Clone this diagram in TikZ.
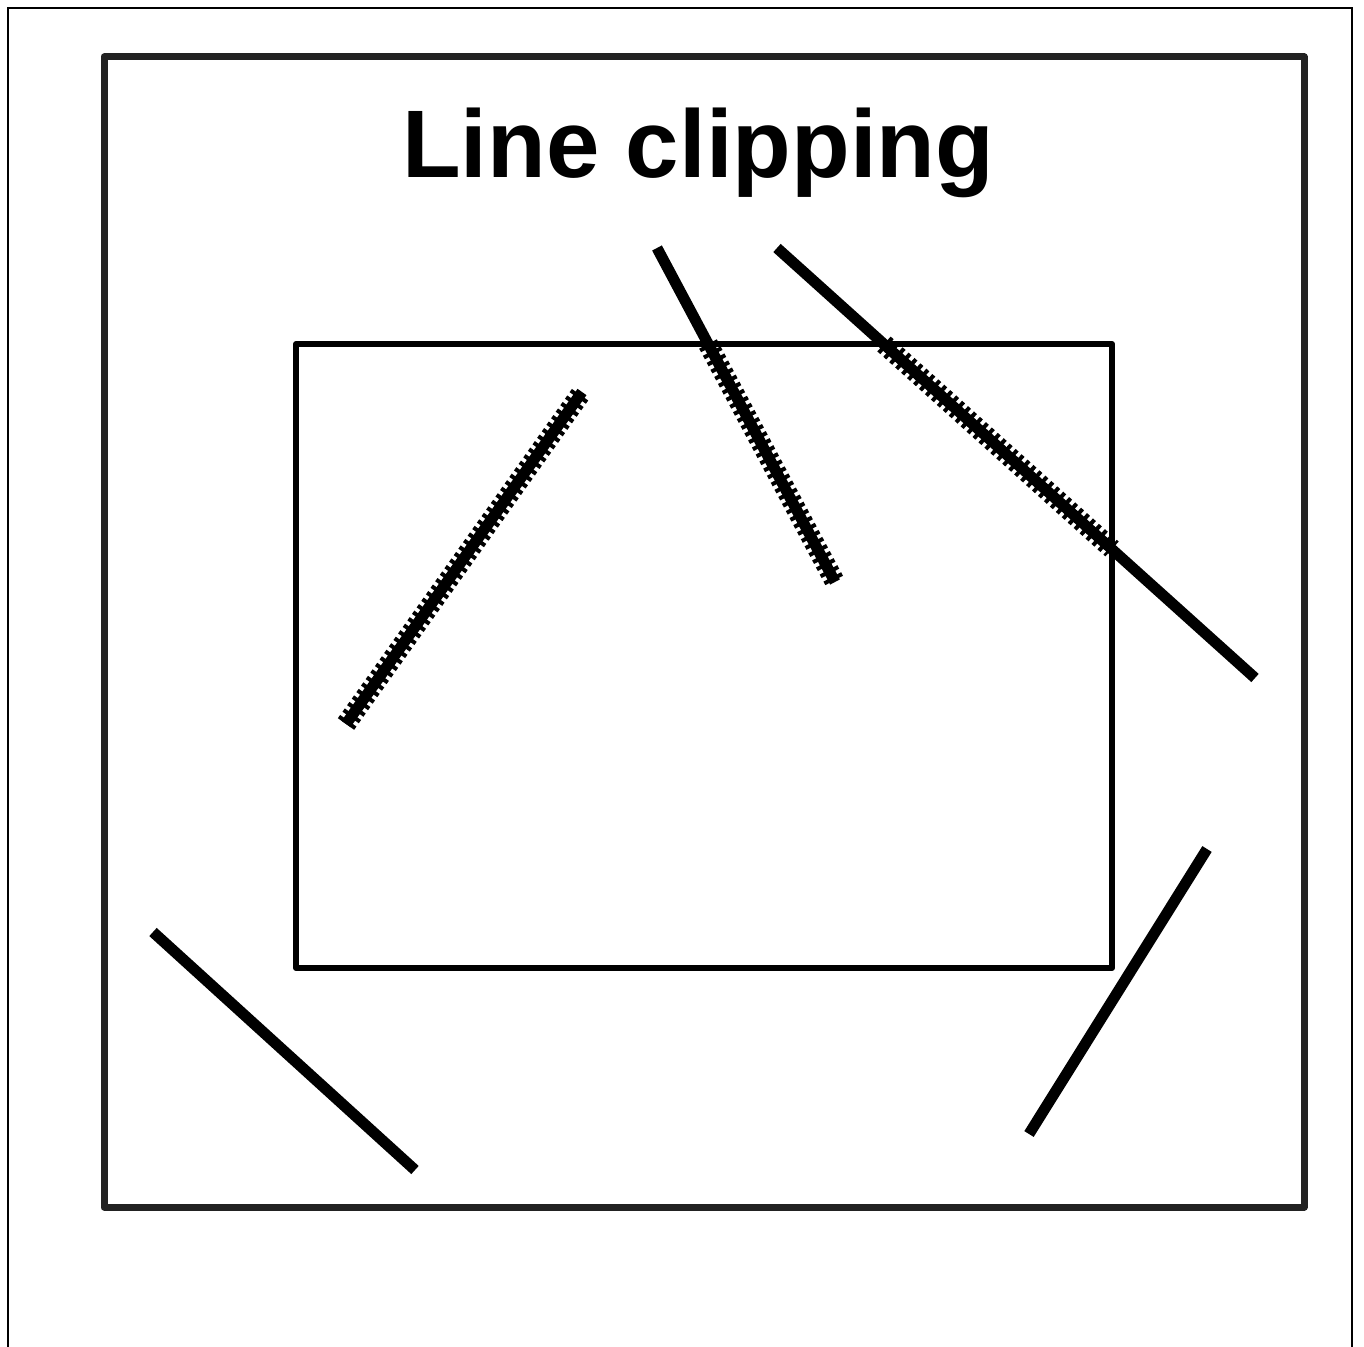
\documentclass[tikz,border=0pt]{standalone}
\usepackage{fontspec}
\setmainfont{Liberation Sans}
\definecolor{framegray}{HTML}{222222}
\begin{document}
\begin{tikzpicture}[x=0.5pt, y=-0.5pt,
        seg/.style={line width=5.5pt},
        hatch/.style={line width=10pt, dash pattern=on 2pt off 2pt},
        window/.style={line width=3pt, line join=round}]
    \clip (0,0) rectangle (1364,1347);
    \fill[white] (0,0) rectangle (1364,1347);
    \draw[line width=1pt] (8,8) rectangle (1352,1400);
    \draw[framegray, line width=3.5pt, line join=round] (104,57) rectangle (1304,1207);
    \node[font=\bfseries\fontsize{48}{58}\selectfont, anchor=base] (title) at (698,178) {Line clipping};
    % clip window
    \draw[window] (296,344) rectangle (1112,968);
    % segment end points
    \coordinate (A1) at (346,724);   \coordinate (A2) at (582,392);
    \coordinate (B1) at (657,248);   \coordinate (B2) at (835,582);
    \coordinate (Bc) at (708,344);
    \coordinate (C1) at (777,248);   \coordinate (C2) at (1255,678);
    \coordinate (Cc) at (884,344);   \coordinate (Cd) at (1112,549);
    \coordinate (D1) at (153,932);   \coordinate (D2) at (415,1170);
    \coordinate (E1) at (1207,849);  \coordinate (E2) at (1029,1134);
    % visible parts
    \draw[hatch] (A1) -- (A2);
    \draw[hatch] (Bc) -- (B2);
    \draw[hatch] (Cc) -- (Cd);
    % segments
    \draw[seg] (A1) -- (A2);
    \draw[seg] (B1) -- (B2);
    \draw[seg] (C1) -- (C2);
    \draw[seg] (D1) -- (D2);
    \draw[seg] (E1) -- (E2);
\end{tikzpicture}
\end{document}
